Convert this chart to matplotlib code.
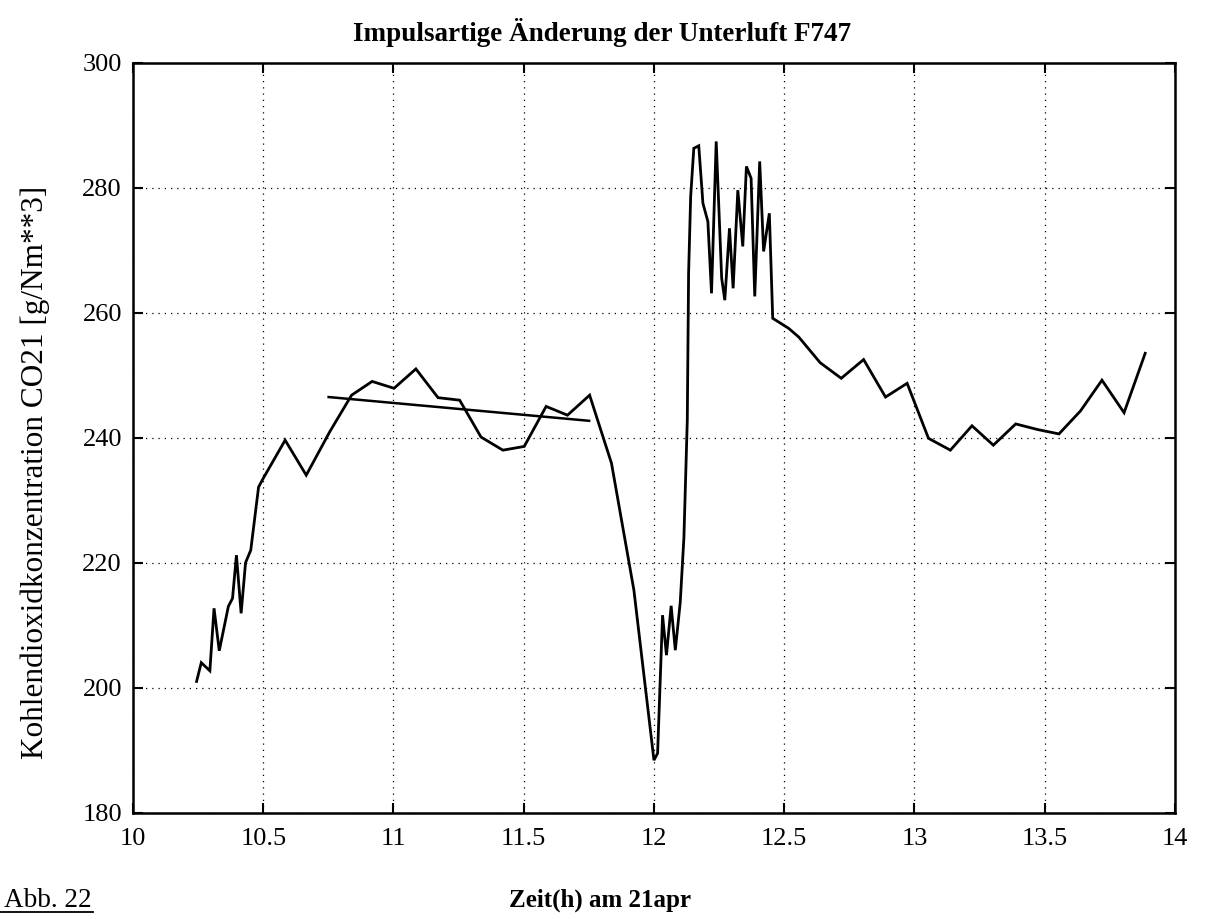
import matplotlib
matplotlib.use("Agg")
import matplotlib.pyplot as plt

# Measured series: time (h) and CO2 concentration
zeit = [10.244, 10.262, 10.295, 10.311, 10.331, 10.366, 10.382, 10.397, 10.415, 10.432,
        10.452, 10.482, 10.500, 10.584, 10.665, 10.756, 10.839, 10.918, 11.002, 11.086,
        11.171, 11.254, 11.336, 11.420, 11.502, 11.586, 11.668, 11.753, 11.837, 11.923,
        12.000, 12.014, 12.033, 12.048, 12.066, 12.082, 12.101, 12.115, 12.128, 12.133,
        12.141, 12.153, 12.172, 12.188, 12.207, 12.221, 12.239, 12.260, 12.272, 12.290,
        12.304, 12.322, 12.341, 12.355, 12.373, 12.387, 12.406, 12.421, 12.443, 12.456,
        12.517, 12.556, 12.638, 12.719, 12.805, 12.889, 12.972, 13.054, 13.138, 13.221,
        13.303, 13.389, 13.473, 13.555, 13.638, 13.720, 13.805, 13.886]
co2 = [201.0, 204.0, 202.7, 212.7, 205.9, 213.0, 214.3, 221.2, 211.9, 220.0,
       222.0, 232.1, 233.5, 239.6, 234.0, 241.0, 246.8, 249.0, 247.9, 251.0,
       246.4, 246.0, 240.1, 238.0, 238.6, 245.0, 243.6, 246.8, 235.9, 215.6,
       188.4, 189.5, 211.6, 205.2, 213.1, 206.0, 213.7, 224.0, 242.8, 266.3,
       278.6, 286.3, 286.7, 277.5, 274.6, 263.1, 287.4, 265.5, 262.0, 273.5,
       263.9, 279.6, 270.6, 283.4, 281.5, 262.6, 284.2, 269.8, 275.9, 259.1,
       257.5, 256.1, 252.0, 249.5, 252.5, 246.5, 248.7, 239.9, 238.0, 241.9,
       238.8, 242.2, 241.3, 240.6, 244.3, 249.2, 244.0, 253.5]

# Trend line (start/end)
trend_x = [10.751, 11.751]
trend_y = [246.5, 242.7]

xticks = [10, 10.5, 11, 11.5, 12, 12.5, 13, 13.5, 14]
xticklabels = ["10", "10.5", "11", "11.5", "12", "12.5", "13", "13.5", "14"]
yticks = [180, 200, 220, 240, 260, 280, 300]

serif = ["Liberation Serif", "DejaVu Serif"]
plt.rcParams["font.family"] = serif

fig = plt.figure(figsize=(12.05, 9.19), dpi=100)
ax = fig.add_axes([0.1104, 0.1157, 0.8646, 0.8161])

ax.plot(zeit, co2, color="black", lw=2.0, solid_joinstyle="miter")
ax.plot(trend_x, trend_y, color="black", lw=1.8)

ax.set_xlim(10, 14)
ax.set_ylim(180, 300)
ax.set_xticks(xticks)
ax.set_xticklabels(xticklabels)
ax.set_yticks(yticks)
ax.grid(True, color="black", linestyle=(0, (1, 4)), linewidth=0.9)
ax.tick_params(direction="in", top=True, right=True, length=7, width=1.5,
               labelsize=19)
ax.tick_params(axis="x", pad=11)
ax.tick_params(axis="y", pad=8)
for s in ax.spines.values():
    s.set_linewidth(1.8)

fig.text(0.5, 0.965, "Impulsartige Änderung der Unterluft F747", ha="center",
         va="center", fontsize=19.5, fontweight="bold")
fig.text(35 / 1205, 1 - 472 / 919, "Kohlendioxidkonzentration CO21 [g/Nm**3]",
         rotation=90, ha="center", va="center", fontsize=22.5)
fig.text(0.498, 1 - 907 / 919, "Zeit(h) am 21apr", ha="center", va="baseline",
         fontsize=18, fontweight="bold")
fig.text(92 / 1205, 1 - 907 / 919, "Abb. 22", ha="right", va="baseline",
         fontsize=19.5)
fig.add_artist(plt.Line2D([0.0, 93 / 1205], [1 - 912 / 919, 1 - 912 / 919],
                          transform=fig.transFigure, color="black", lw=1.3))

fig.savefig("out.png", dpi=100, facecolor="white")
